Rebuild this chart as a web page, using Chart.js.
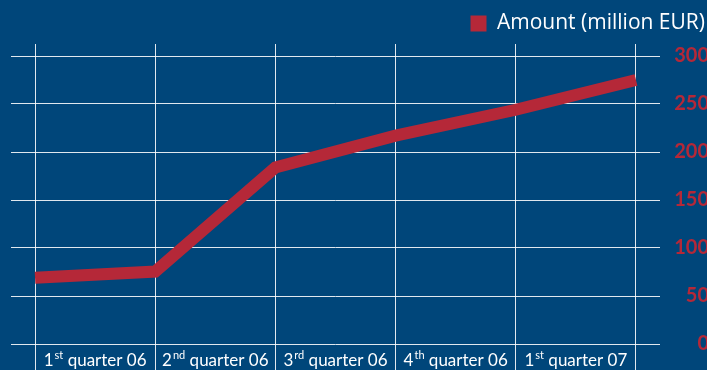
<!DOCTYPE html>
<html>
<head>
<meta charset="utf-8">
<script src="https://cdn.jsdelivr.net/npm/chart.js@4"></script>
<style>
  html, body { margin: 0; padding: 0; background: #00467a; }
  #wrap { width: 707px; height: 370px; position: relative; }
</style>
</head>
<body>
<div id="wrap"><canvas id="chartAmount"></canvas></div>
<script>
// ---- Data ----
const categories  = ['1st quarter 06', '2nd quarter 06', '3rd quarter 06', '4th quarter 06', '1st quarter 07'];
const pointSteps  = [0, 1, 2, 3, 4, 5];            // quarter boundaries
const amounts     = [69, 75.5, 184, 217, 244, 275];
const yGridValues = [0, 25, 50, 75, 100, 125, 150, 175, 200, 225, 250, 275, 300];
const yLabelStep  = 50;
const seriesLabel = 'Amount (million EUR)';

const BG    = '#00467a';
const RED   = '#b52838';
const GRID  = 'rgba(255,255,255,0.88)';
const FONT  = 'Lato';

// ---- Plugins ----
const bgPlugin = {
  id: 'bg',
  beforeDraw(chart) {
    const { ctx, width, height } = chart;
    ctx.save();
    ctx.fillStyle = BG;
    ctx.fillRect(0, 0, width, height);
    ctx.restore();
  }
};

// category labels with superscript ordinals, centred between boundaries
const quarterLabels = {
  id: 'quarterLabels',
  afterDraw(chart) {
    const { ctx } = chart;
    const xs = chart.scales.x;
    const base = xs.top + 22;
    const mainFont = `17px ${FONT}`;
    const supFont  = `11px ${FONT}`;
    ctx.save();
    ctx.fillStyle = '#ffffff';
    ctx.textBaseline = 'alphabetic';
    ctx.textAlign = 'left';
    categories.forEach((lab, i) => {
      const m = lab.match(/^(\d+)(st|nd|rd|th)(.*)$/);
      const cx = xs.getPixelForValue(i + 0.5);
      ctx.font = mainFont;
      const wNum = ctx.measureText(m[1]).width;
      const wRest = ctx.measureText(m[3]).width;
      ctx.font = supFont;
      const wSup = ctx.measureText(m[2]).width + 1;
      let x = cx - (wNum + wSup + wRest) / 2;
      ctx.font = mainFont;
      ctx.fillText(m[1], x, base);
      x += wNum + 1;
      ctx.font = supFont;
      ctx.fillText(m[2], x, base - 7);
      x += wSup - 1;
      ctx.font = mainFont;
      ctx.fillText(m[3], x, base);
    });
    ctx.restore();
  }
};

new Chart(document.getElementById('chartAmount'), {
  type: 'line',
  data: {
    datasets: [{
      label: seriesLabel,
      data: pointSteps.map((s, i) => ({ x: s, y: amounts[i] })),
      borderColor: RED,
      backgroundColor: RED,
      borderWidth: 12,
      borderJoinStyle: 'miter',
      borderCapStyle: 'butt',
      pointRadius: 0,
      pointHoverRadius: 0,
      tension: 0,
      fill: false,
    }]
  },
  options: {
    responsive: true,
    maintainAspectRatio: false,
    animation: false,
    layout: { padding: { top: 9, left: 11, right: -2, bottom: 0 } },
    plugins: {
      legend: {
        position: 'top',
        align: 'end',
        labels: {
          color: '#ffffff',
          font: { family: 'Open Sans', size: 21 },
          boxWidth: 16,
          boxHeight: 16,
          padding: 4,
          generateLabels: chart =>
            Chart.defaults.plugins.legend.labels.generateLabels(chart)
              .map(it => ({ ...it, lineWidth: 0 }))
        }
      },
      tooltip: { enabled: false }
    },
    scales: {
      x: {
        type: 'linear',
        min: -0.2,
        max: 5.2,
        afterBuildTicks: scale => { scale.ticks = pointSteps.map(v => ({ value: v })); },
        afterFit: scale => { scale.height = 26; },
        grid: { color: GRID, lineWidth: 1, drawTicks: true, tickLength: 26 },
        border: { display: false },
        ticks: { display: false }
      },
      y: {
        position: 'right',
        min: 0,
        max: 312.5,
        afterBuildTicks: scale => { scale.ticks = yGridValues.map(v => ({ value: v })); },
        afterFit: scale => { scale.width = 49; },
        grid: { color: GRID, lineWidth: 1, drawTicks: false },
        border: { display: false },
        ticks: {
          color: RED,
          padding: 9,
          crossAlign: 'far',
          font: { family: FONT, size: 20, weight: 'bold' },
          callback: v => (v % yLabelStep === 0 ? String(v) : '')
        }
      }
    }
  },
  plugins: [bgPlugin, quarterLabels]
});
</script>
</body>
</html>
